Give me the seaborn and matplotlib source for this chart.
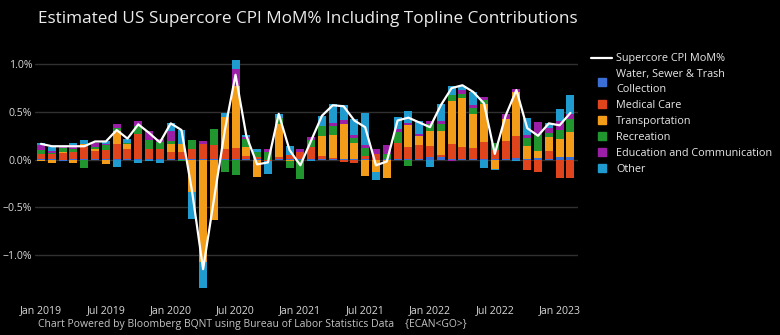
import numpy as np
import pandas as pd
import matplotlib
matplotlib.use("Agg")
import matplotlib.pyplot as plt
from matplotlib.lines import Line2D
import seaborn as sns

# ---------------- data ----------------
months = pd.date_range("2019-01-01", periods=50, freq="MS")

water = [0.01, 0.005, -0.01, 0.01, 0.01, 0.005, 0.01, 0.005, 0.005, 0.005,
         0.005, 0.005, 0.005, 0.005, 0.005, 0.005, 0.005, 0.005, 0.01, 0.005,
         0.005, 0.0, 0.005, 0.005, 0.005, 0.005, 0.005, 0.005, 0.005, 0.005,
         0.01, 0.0, 0.005, 0.005, 0.005, 0.005, 0.025, 0.025, 0.005, 0.005,
         0.005, 0.005, 0.005, 0.01, 0.02, 0.005, 0.015, 0.005, 0.025, 0.025]
medical = [0.05, 0.05, 0.065, 0.07, 0.13, 0.09, 0.09, 0.16, 0.11, 0.26,
           0.11, 0.11, 0.07, 0.075, 0.11, 0.155, 0.15, 0.105, 0.11, 0.03,
           0.025, -0.02, 0.025, 0.04, 0.075, 0.13, 0.03, 0.01, -0.03, -0.035,
           0.03, 0.06, 0.0, 0.165, 0.13, 0.145, 0.12, 0.025, 0.155, 0.13,
           0.12, 0.18, 0.095, 0.18, 0.23, -0.105, -0.13, 0.08, -0.195, -0.195]
transport = [-0.01, -0.035, 0.01, -0.035, 0.02, 0.02, -0.045, 0.13, 0.045, 0.0,
             0.0, 0.0, 0.085, 0.08, -0.345, -1.07, -0.63, 0.34, 0.65, 0.1,
             -0.18, 0.0, 0.34, -0.02, 0.0, 0.0, 0.21, 0.24, 0.365, 0.17,
             -0.17, -0.13, -0.19, 0.0, 0.23, 0.1, 0.16, 0.25, 0.46, 0.51,
             0.35, 0.4, -0.1, 0.24, 0.46, 0.14, 0.07, 0.15, 0.195, 0.265]
recreation = [0.04, 0.01, 0.05, 0.035, -0.09, 0.02, 0.05, 0.035, 0.01, 0.09,
              0.09, 0.065, 0.035, -0.02, 0.09, 0.0, 0.17, -0.13, -0.16, 0.08,
              0.05, 0.08, 0.065, -0.07, -0.2, 0.07, 0.11, 0.095, 0.0, 0.05,
              0.08, 0.0, 0.055, 0.12, -0.07, 0.0, 0.07, 0.07, 0.055, 0.04,
              0.065, 0.045, 0.07, 0.0, 0.0, 0.085, 0.17, 0.045, 0.09, 0.14]
education = [0.05, 0.02, 0.005, 0.035, 0.0, 0.04, 0.01, 0.04, 0.0, 0.05,
             0.095, 0.04, 0.1, 0.0, 0.0, 0.035, 0.0, 0.0, 0.18, 0.02,
             0.0, 0.035, 0.0, 0.0, 0.035, 0.035, 0.0, 0.035, 0.045, 0.035,
             0.035, 0.05, 0.09, 0.035, 0.02, 0.02, 0.035, 0.035, -0.02, 0.045,
             0.035, 0.025, 0.0, 0.05, 0.03, 0.03, 0.14, 0.05, 0.1, 0.05]
other = [0.025, 0.045, 0.0, 0.025, 0.045, 0.0, 0.03, -0.075, 0.05, -0.04,
         -0.01, -0.04, 0.09, 0.15, -0.28, -0.28, 0.0, 0.035, 0.09, 0.02,
         0.03, -0.13, 0.045, 0.1, 0.0, -0.01, 0.105, 0.195, 0.16, 0.17,
         0.33, -0.08, 0.0, 0.12, 0.12, 0.13, -0.08, 0.18, 0.095, 0.04,
         0.13, -0.09, -0.01, 0.0, -0.02, 0.18, 0.0, 0.05, 0.125, 0.2]
supercore = [0.165, 0.14, 0.14, 0.14, 0.14, 0.19, 0.19, 0.31, 0.22, 0.37,
             0.28, 0.18, 0.38, 0.31, -0.35, -1.15, -0.42, 0.3, 0.89, 0.25,
             -0.05, -0.03, 0.48, 0.1, -0.06, 0.2, 0.46, 0.57, 0.56, 0.41,
             0.34, -0.06, -0.02, 0.41, 0.44, 0.39, 0.34, 0.57, 0.75, 0.78,
             0.71, 0.59, 0.06, 0.46, 0.73, 0.33, 0.25, 0.38, 0.36, 0.49]

categories = ["Water, Sewer & Trash\nCollection", "Medical Care", "Transportation",
              "Recreation", "Education and Communication", "Other"]
series = [water, medical, transport, recreation, education, other]
colors = ["#3b6fd6", "#e0441c", "#f39c1a", "#22962e", "#9a1fa6", "#1f9bd0"]

tick_months = [0, 6, 12, 18, 24, 30, 36, 42, 48]
tick_labels = [months[i].strftime("%b %Y") for i in tick_months]

# ---------------- styling ----------------
sns.set_theme(style="dark")
plt.rcParams["font.family"] = ["Open Sans", "DejaVu Sans"]
bg = "#000000"
fig = plt.figure(figsize=(7.8, 3.35), dpi=100, facecolor=bg)
ax = fig.add_axes([35 / 780, 1 - 293 / 335, 543 / 780, 243 / 335])
ax.set_facecolor(bg)

idx = np.arange(len(months))
pos_bottom = np.zeros(len(idx))
neg_bottom = np.zeros(len(idx))
for vals, col in zip(series, colors):
    v = np.array(vals, dtype=float)
    pos = np.where(v > 0, v, 0)
    neg = np.where(v < 0, v, 0)
    ax.bar(idx, pos, bottom=pos_bottom, width=0.74, color=col, linewidth=0, zorder=3)
    ax.bar(idx, neg, bottom=neg_bottom, width=0.74, color=col, linewidth=0, zorder=3)
    pos_bottom += pos
    neg_bottom += neg

df_line = pd.DataFrame({"idx": idx, "supercore": supercore})
sns.lineplot(data=df_line, x="idx", y="supercore", color="white", linewidth=1.6,
             ax=ax, zorder=4)

ax.set_xlim(-0.56, 49.7)
ax.set_ylim(-1.4, 1.15)
yt = [-1.0, -0.5, 0.0, 0.5, 1.0]
ax.set_yticks(yt)
ax.set_yticklabels(["\u22121.0%", "\u22120.5%", "0.0%", "0.5%", "1.0%"])
ax.set_xticks(tick_months)
ax.set_xticklabels(tick_labels)
ax.tick_params(axis="both", colors="#d8d8d8", labelsize=7.6, length=0, pad=2)
ax.tick_params(axis="x", pad=9)
ax.grid(False)
for y in yt:
    ax.axhline(y, color="#303030", lw=1.0, zorder=1)
for s in ax.spines.values():
    s.set_visible(False)
ax.set_xlabel("")
ax.set_ylabel("")

# legend
handles = [Line2D([0], [0], color="white", lw=1.6)]
for col in colors:
    handles.append(Line2D([0], [0], marker="s", linestyle="None", markersize=6,
                          markerfacecolor=col, markeredgecolor=col))
labels = ["Supercore CPI MoM%"] + categories
leg = fig.legend(handles, labels, loc="upper left", bbox_to_anchor=(586 / 780, 1 - 48 / 335),
                 frameon=False, fontsize=7.8, labelcolor="#e8e8e8", handlelength=1.9,
                 handletextpad=0.4, labelspacing=0.46, borderpad=0.0)
for t in leg.get_texts():
    t.set_linespacing(1.45)

fig.text(38 / 780, 1 - 19 / 335, "Estimated US Supercore CPI MoM% Including Topline Contributions",
         color="#ececec", fontsize=12.3, va="center", ha="left")
fig.text(38 / 780, 1 - 324 / 335,
         "Chart Powered by Bloomberg BQNT using Bureau of Labor Statistics Data    {ECAN<GO>}",
         color="#c4c4c4", fontsize=7.45, va="center", ha="left")

fig.savefig("out.png", dpi=100, facecolor=bg)
